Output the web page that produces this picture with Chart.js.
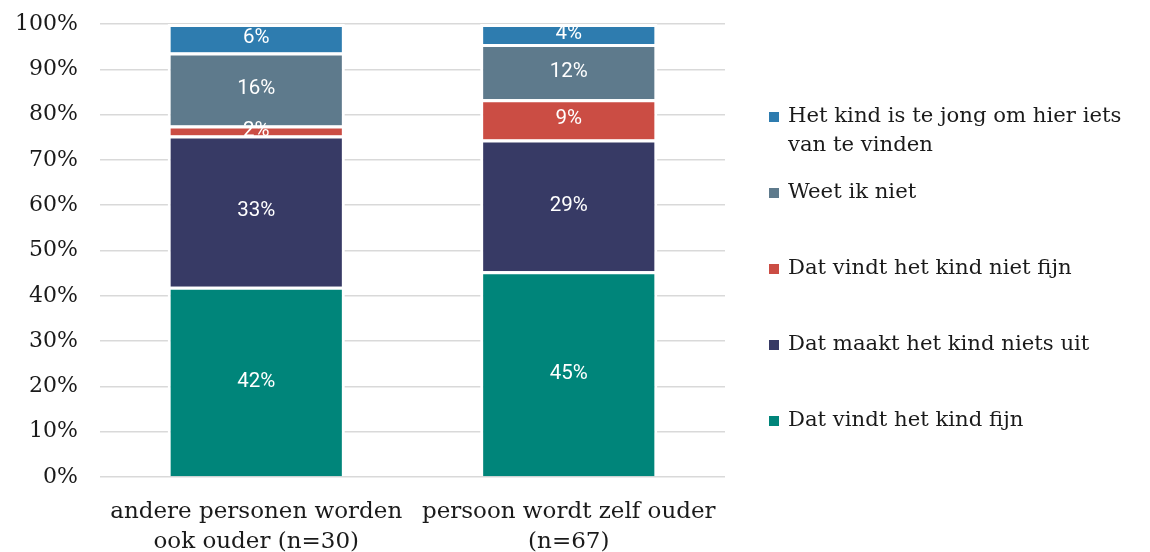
<!DOCTYPE html>
<html>
<head>
<meta charset="utf-8">
<script src="https://cdn.jsdelivr.net/npm/chart.js@4"></script>
<style>
  html, body { margin: 0; padding: 0; background: #fff; }
  #wrap { width: 1150px; height: 552px; }
</style>
</head>
<body>
<div id="wrap"><canvas id="chart"></canvas></div>
<script>
const categories = [['andere personen worden', 'ook ouder (n=30)'], ['persoon wordt zelf ouder', '(n=67)']];
const seriesNames = ['Dat vindt het kind fijn', 'Dat maakt het kind niets uit', 'Dat vindt het kind niet fijn', 'Weet ik niet', 'Het kind is te jong om hier iets van te vinden'];
const legendLines = [['Dat vindt het kind fijn'], ['Dat maakt het kind niets uit'], ['Dat vindt het kind niet fijn'], ['Weet ik niet'], ['Het kind is te jong om hier iets', 'van te vinden']];
const fijn = [42.0, 45.4];
const maaktNiets = [33.4, 29.1];
const nietFijn = [2.2, 8.9];
const weetNiet = [16.1, 12.2];
const teJong = [6.3, 4.4];
const seriesColors = ['#00857a', '#373a65', '#cb4d44', '#5e7a8c', '#2e7caf'];

const values = [fijn, maaktNiets, nietFijn, weetNiet, teJong];
const serif = "'DejaVu Serif', serif";

// labels in the bar segments
const segLabels = {
    id: 'segLabels',
    afterDatasetsDraw(chart) {
        const ctx = chart.ctx;
        ctx.save();
        ctx.font = "20.5px Roboto, sans-serif";
        ctx.fillStyle = '#ffffff';
        ctx.textAlign = 'center';
        ctx.textBaseline = 'middle';
        chart.data.datasets.forEach((ds, i) => {
            chart.getDatasetMeta(i).data.forEach((bar, j) => {
                const mid = (bar.y + bar.base) / 2;
                ctx.fillText(Math.round(ds.data[j]) + '%', bar.x, mid);
            });
        });
        ctx.restore();
    }
};

// legend on the right, in reverse order like the original
const sideLegend = {
    id: 'sideLegend',
    afterDraw(chart) {
        const ctx = chart.ctx;
        const area = chart.chartArea;
        const x = area.right + 44;
        let y = area.top + 92;
        ctx.save();
        ctx.font = "21.2px " + serif;
        ctx.textBaseline = 'middle';
        ctx.textAlign = 'left';
        for (let i = seriesNames.length - 1; i >= 0; i--) {
            ctx.fillStyle = seriesColors[i];
            ctx.fillRect(x, y - 4, 10, 10);
            ctx.fillStyle = '#1a1a1a';
            legendLines[i].forEach((line, k) => {
                ctx.fillText(line, x + 19, y + k * 29);
            });
            y += 76;
        }
        ctx.restore();
    }
};

new Chart(document.getElementById('chart'), {
    type: 'bar',
    data: {
        labels: categories,
        datasets: seriesNames.map((name, i) => ({
            label: name,
            data: values[i],
            backgroundColor: seriesColors[i],
            borderColor: '#ffffff',
            borderWidth: 3,
            barPercentage: 0.567,
            categoryPercentage: 1
        }))
    },
    options: {
        responsive: true,
        maintainAspectRatio: false,
        animation: false,
        layout: { padding: { top: 24, right: 425, left: 0, bottom: 0 } },
        plugins: {
            legend: { display: false },
            tooltip: { enabled: false }
        },
        scales: {
            x: {
                stacked: true,
                grid: { display: false },
                border: { display: false },
                ticks: { color: '#1a1a1a', font: { family: serif, size: 23, lineHeight: 1.3 }, padding: 12, maxRotation: 0 },
                afterFit(scale) { scale.height = 75; }
            },
            y: {
                stacked: true,
                min: 0,
                max: 100,
                ticks: {
                    stepSize: 10,
                    color: '#1a1a1a',
                    padding: 22,
                    font: { family: serif, size: 22 },
                    callback: (v) => v + '%'
                },
                grid: { color: '#d9d9d9', lineWidth: 1.5, drawTicks: false },
                border: { display: false },
                afterFit(scale) { scale.width = 100; scale.paddingTop = 0; scale.paddingBottom = 0; }
            }
        }
    },
    plugins: [segLabels, sideLegend]
});
</script>
</body>
</html>
